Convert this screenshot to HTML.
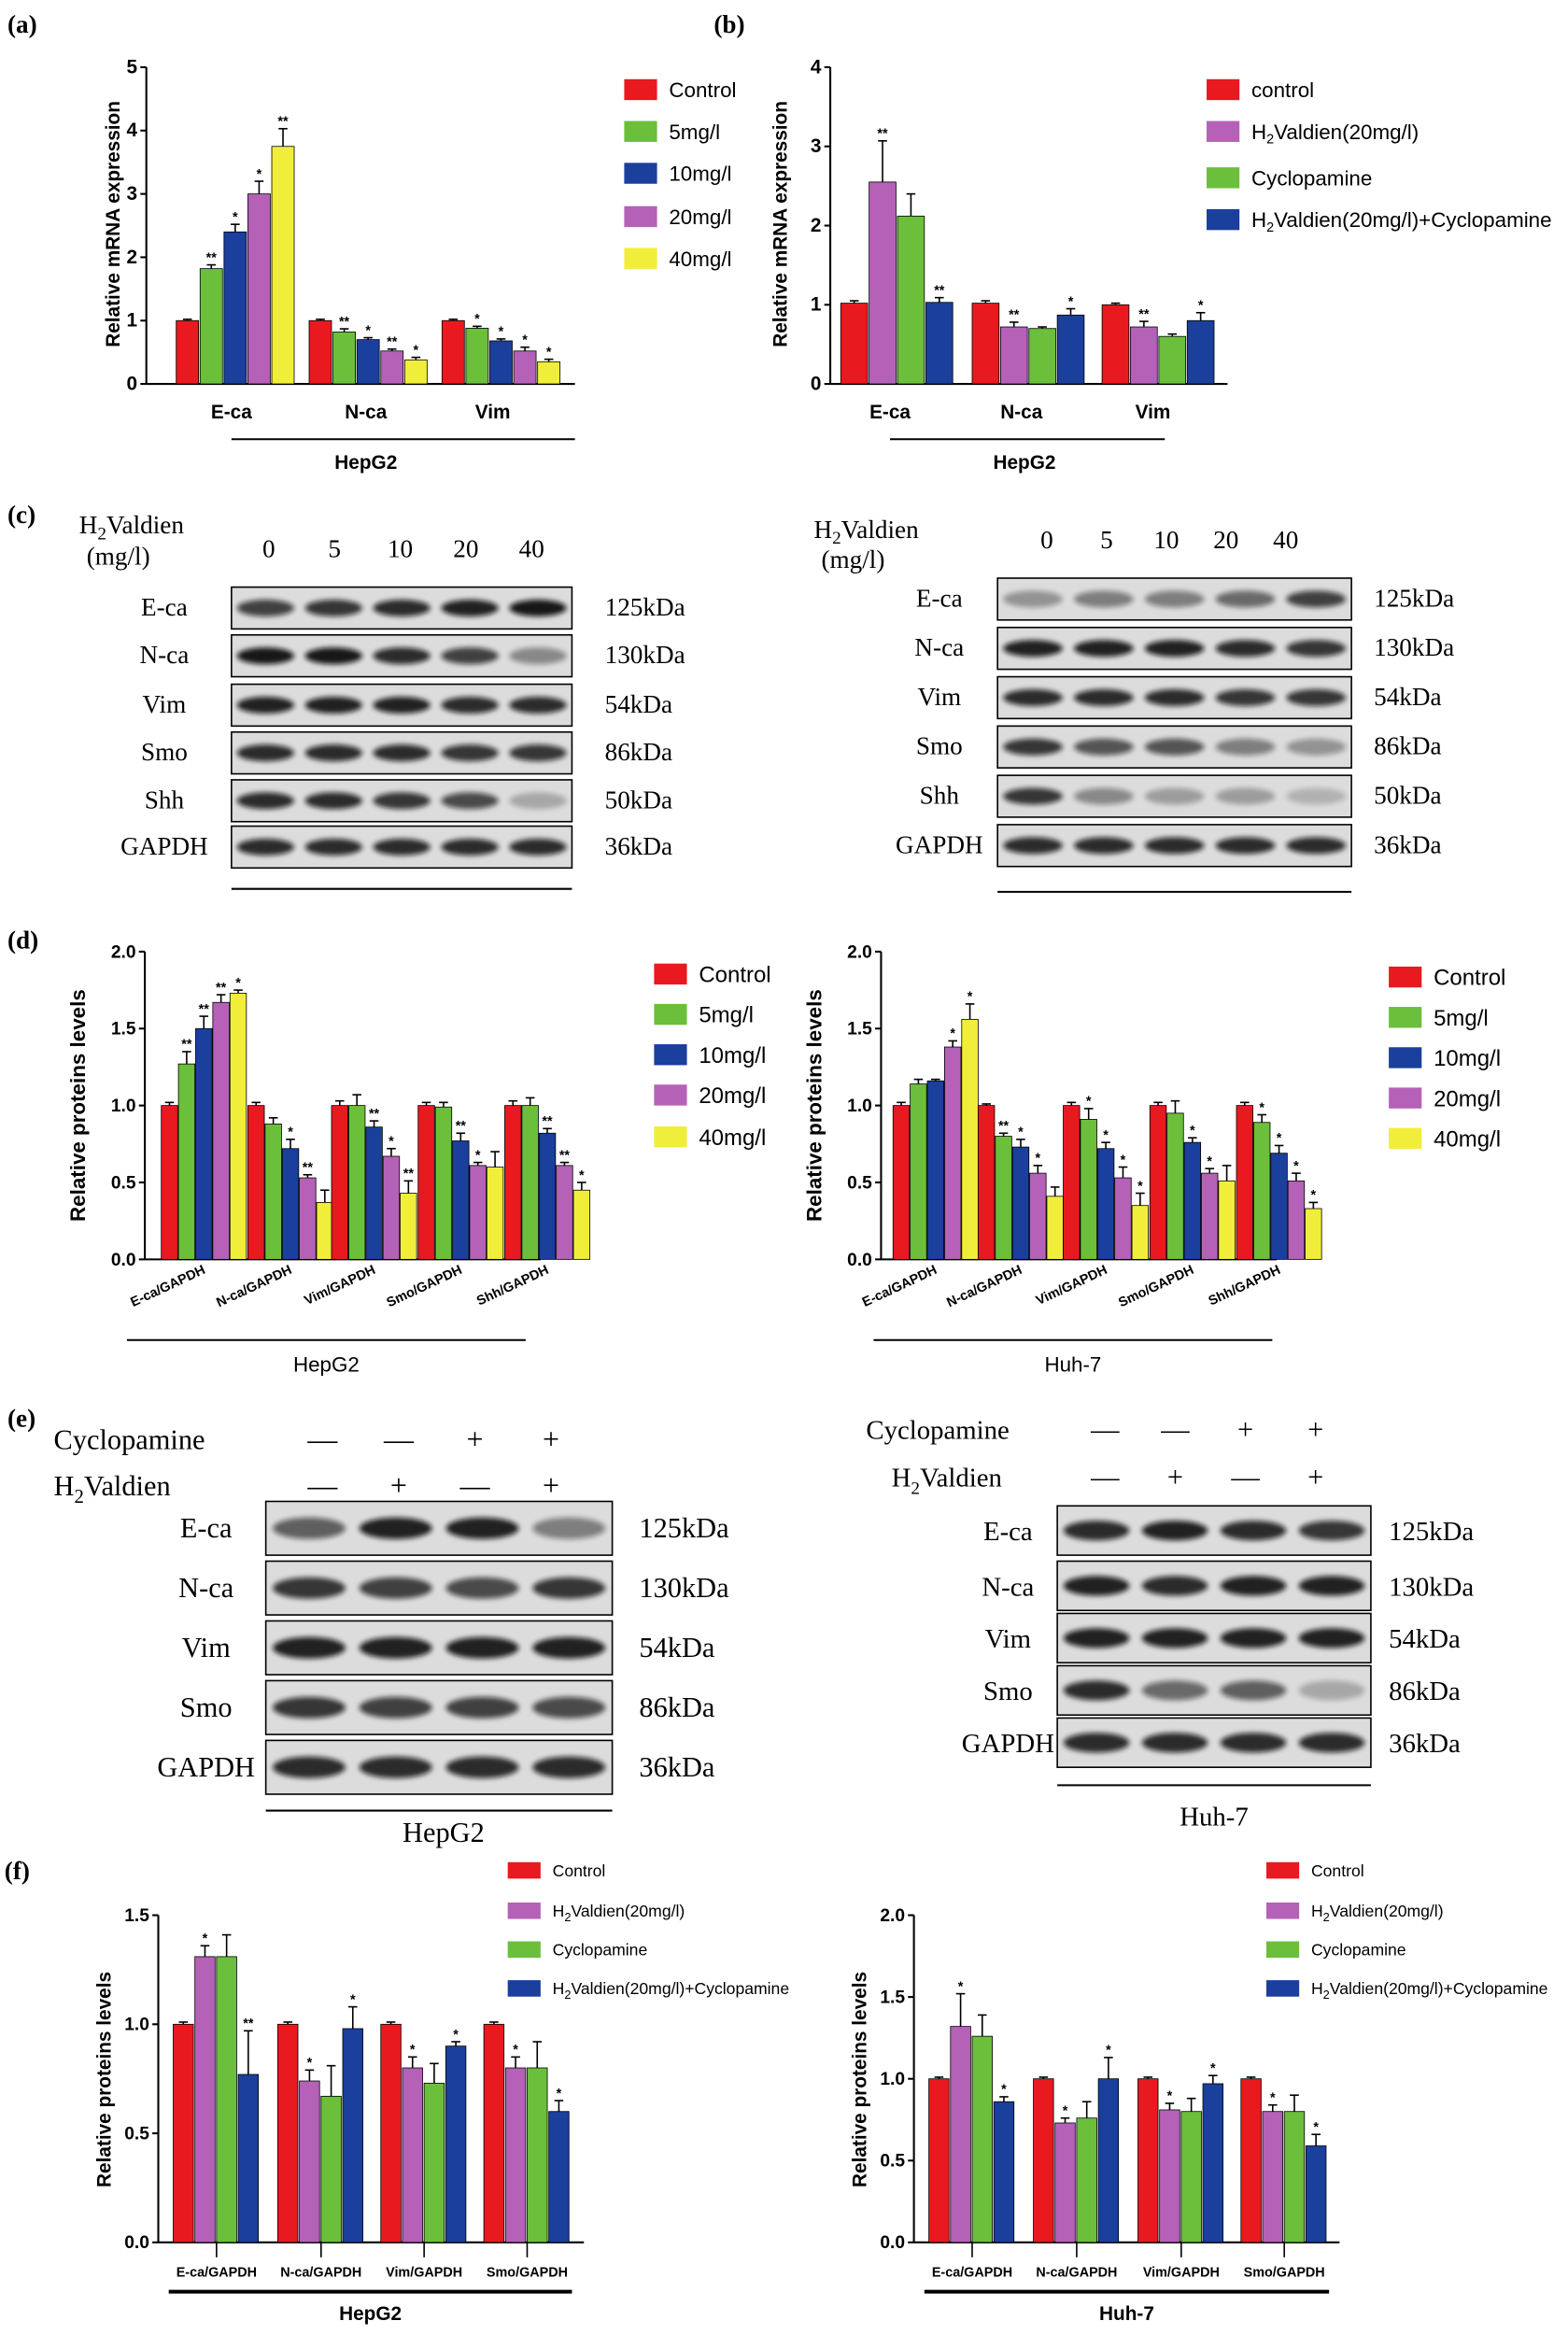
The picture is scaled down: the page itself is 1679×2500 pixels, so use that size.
<!DOCTYPE html>
<html><head><meta charset="utf-8">
<style>
html,body{margin:0;padding:0;background:#fff;}
svg{display:block;}
text{font-family:"Liberation Sans",Arial,sans-serif;}
.serif{font-family:"Liberation Serif","Times New Roman",serif;}
</style></head>
<body>
<svg id="s" width="1679" height="2500" viewBox="0 0 1050 1563" preserveAspectRatio="none" xmlns="http://www.w3.org/2000/svg">
<defs><filter id="bl" x="-20%" y="-50%" width="140%" height="200%"><feGaussianBlur stdDeviation="1.6"/></filter></defs>
<g id="g"></g>
</svg>
<script>
const g=document.getElementById('g');let h='';
const R='#e8191f',G='#6bbf3a',B='#1a3f9c',P='#b561b8',Y='#f0ee3a';
function t(x,y,s,sz,a,extra){h+=`<text x="${x}" y="${y}" font-size="${sz}" text-anchor="${a||'start'}" ${extra||''}>${s}</text>`;}
function L(x1,y1,x2,y2,w){h+=`<line x1="${x1}" y1="${y1}" x2="${x2}" y2="${y2}" stroke="#000" stroke-width="${w||1.3}"/>`;}
function axis(x,y0,ticks,ppu,lsz,xend,dec){
 L(x,y0,x,y0-ticks[ticks.length-1]*ppu);L(x,y0,xend,y0);
 ticks.forEach(v=>{const y=y0-v*ppu;L(x-4,y,x,y);t(x-6,y+4,dec?v.toFixed(1):v,lsz,'end','font-weight="bold"');});
}
function bars(x0,y0,ppu,vals,cols,w,gap,err,stars){
 vals.forEach((v,i)=>{const x=x0+i*(w+gap);const y=y0-v*ppu;
 h+=`<rect x="${x}" y="${y}" width="${w}" height="${v*ppu}" fill="${cols[i]}" stroke="#000" stroke-width="0.5"/>`;
 const e=(err&&err[i]!=null?err[i]:0.04)*ppu;
 L(x+w/2,y,x+w/2,y-e,1);L(x+w/2-3,y-e,x+w/2+3,y-e,1);
 if(stars&&stars[i])t(x+w/2,y-e-2,stars[i],9,'middle','font-weight="bold"');});
}
function legend(x,ys,cols,labels,sz,w,hh){ys.forEach((y,i)=>{h+=`<rect x="${x}" y="${y-hh/2}" width="${w}" height="${hh}" fill="${cols[i]}"/>`;t(x+w+8,y+sz*0.36,labels[i],sz);});}
// (a)
t(5,22,'(a)',17,'start','class="serif" font-weight="bold"');
axis(98,257,[0,1,2,3,4,5],42.4,13,385,false);
h+=`<text transform="translate(80,150) rotate(-90)" font-size="13" font-weight="bold" text-anchor="middle">Relative mRNA expression</text>`;
const c5=[R,G,B,P,Y];
bars(118,257,42.4,[1,1.82,2.4,3.0,3.75],c5,15,1,[0.02,0.06,0.12,0.2,0.28],['','**','*','*','**']);
bars(207,257,42.4,[1,0.82,0.7,0.52,0.38],c5,15,1,[0.02,0.05,0.03,0.03,0.04],['','**','*','**','*']);
bars(296,257,42.4,[1,0.88,0.68,0.52,0.35],c5,15,1,[0.02,0.03,0.03,0.06,0.04],['','*','*','*','*']);
t(155,280,'E-ca',13,'middle','font-weight="bold"');t(245,280,'N-ca',13,'middle','font-weight="bold"');t(330,280,'Vim',13,'middle','font-weight="bold"');
L(155,294,385,294);t(245,314,'HepG2',13,'middle','font-weight="bold"');
legend(418,[60,88,116,145,173],c5,['Control','5mg/l','10mg/l','20mg/l','40mg/l'],14,22,14);
// (b)
t(478,22,'(b)',17,'start','class="serif" font-weight="bold"');
axis(556,257,[0,1,2,3,4],53,13,822,false);
h+=`<text transform="translate(527,150) rotate(-90)" font-size="13" font-weight="bold" text-anchor="middle">Relative mRNA expression</text>`;
const c4b=[R,P,G,B];
bars(563,257,53,[1.02,2.55,2.12,1.03],c4b,18,1,[0.03,0.52,0.28,0.06],['','**','','**']);
bars(651,257,53,[1.02,0.72,0.7,0.87],c4b,18,1,[0.03,0.06,0.02,0.08],['','**','','*']);
bars(738,257,53,[1.0,0.72,0.6,0.8],c4b,18,1,[0.02,0.07,0.03,0.1],['','**','','*']);
t(596,280,'E-ca',13,'middle','font-weight="bold"');t(684,280,'N-ca',13,'middle','font-weight="bold"');t(772,280,'Vim',13,'middle','font-weight="bold"');
L(596,294,780,294);t(686,314,'HepG2',13,'middle','font-weight="bold"');
legend(808,[60,88,119,147],c4b,['control','H<tspan font-size="9" dy="3">2</tspan><tspan dy="-3">Valdien(20mg/l)</tspan>','Cyclopamine','H<tspan font-size="9" dy="3">2</tspan><tspan dy="-3">Valdien(20mg/l)+Cyclopamine</tspan>'],14,22,14);
// blots
function blot(x,y,w,hh,n,ints,bg){
 h+=`<rect x="${x}" y="${y}" width="${w}" height="${hh}" fill="${bg||'#dcdcdc'}" stroke="#000" stroke-width="1"/>`;
 const lw=w/n;ints.forEach((v,i)=>{const cx=x+lw*(i+0.5);h+=`<ellipse cx="${cx}" cy="${y+hh/2}" rx="${lw*0.42}" ry="${hh*0.2}" fill="#111" opacity="${v}" filter="url(#bl)"/>`;});
}
function ts(x,y,s,sz,a){t(x,y,s,sz,a,'class="serif"');}
t(5,350,'(c)',17,'start','class="serif" font-weight="bold"');
ts(53,357,'H<tspan font-size="12" dy="4">2</tspan><tspan dy="-4">Valdien</tspan>',17);ts(58,378,'(mg/l)',17);
['0','5','10','20','40'].forEach((s,i)=>ts(180+i*44,373,s,17,'middle'));
const lrows=[[393,'E-ca','125kDa',[.75,.8,.85,.9,.95]],[425,'N-ca','130kDa',[.95,.95,.85,.75,.4]],[458,'Vim','54kDa',[.9,.9,.9,.85,.85]],[490,'Smo','86kDa',[.85,.85,.85,.8,.8]],[522,'Shh','50kDa',[.85,.85,.8,.7,.25]],[553,'GAPDH','36kDa',[.85,.85,.85,.85,.85]]];
lrows.forEach(r=>{blot(155,r[0],228,28,5,r[3]);ts(110,r[0]+19,r[1],17,'middle');ts(405,r[0]+19,r[2],17);});
L(155,595,383,595);
ts(545,360,'H<tspan font-size="12" dy="4">2</tspan><tspan dy="-4">Valdien</tspan>',17);ts(550,380,'(mg/l)',17);
['0','5','10','20','40'].forEach((s,i)=>ts(701+i*40,367,s,17,'middle'));
const rrows=[[387,'E-ca','125kDa',[.35,.45,.45,.55,.75]],[420,'N-ca','130kDa',[.9,.9,.9,.85,.8]],[453,'Vim','54kDa',[.85,.85,.85,.8,.8]],[486,'Smo','86kDa',[.8,.65,.65,.45,.35]],[519,'Shh','50kDa',[.8,.4,.3,.3,.2]],[552,'GAPDH','36kDa',[.85,.85,.85,.85,.85]]];
rrows.forEach(r=>{blot(668,r[0],237,28,5,r[3]);ts(629,r[0]+19,r[1],17,'middle');ts(920,r[0]+19,r[2],17);});
L(668,597,905,597);
// (d)
t(5,635,'(d)',17,'start','class="serif" font-weight="bold"');
function dpanel(ax,groups,starts,stars,label,lx,ly,ux1,ux2){
 axis(ax,843,[0,0.5,1,1.5,2],103,12,ax+265,true);
 h+=`<text transform="translate(${ax-40},740) rotate(-90)" font-size="14" font-weight="bold" text-anchor="middle">Relative proteins levels</text>`;
 groups.forEach((v,i)=>bars(starts[i],843,103,v[0],c5,11,0.5,v[1],stars[i]));
 ['E-ca/GAPDH','N-ca/GAPDH','Vim/GAPDH','Smo/GAPDH','Shh/GAPDH'].forEach((s,i)=>h+=`<text transform="translate(${starts[i]+30},852) rotate(-25)" font-size="9" font-weight="bold" text-anchor="end">${s}</text>`);
 L(ux1,897,ux2,897);t((ux1+ux2)/2,918,label,14,'middle');
 legend(lx,ly,c5,['Control','5mg/l','10mg/l','20mg/l','40mg/l'],15,22,14);
}
dpanel(97,[[[1,1.27,1.5,1.67,1.73],[.02,.08,.08,.05,.02]],[[1,.88,.72,.53,.37],[.02,.04,.06,.02,.08]],[[1,1,.86,.67,.43],[.03,.07,.04,.05,.08]],[[1,.99,.77,.61,.6],[.02,.03,.05,.02,.1]],[[1,1,.82,.61,.45],[.03,.05,.03,.02,.05]]],[108,166,222,280,338],[['','**','**','**','*'],['','','*','**',''],['','','**','*','**'],['','','**','*',''],['','','**','**','*']],'HepG2',438,[652,679,706,733,761],85,352);
dpanel(590,[[[1,1.14,1.16,1.38,1.56],[.02,.03,.01,.04,.1]],[[1,.8,.73,.56,.41],[.01,.02,.05,.05,.06]],[[1,.91,.72,.53,.35],[.02,.07,.04,.07,.08]],[[1,.95,.76,.56,.51],[.02,.08,.03,.03,.1]],[[1,.89,.69,.51,.33],[.02,.05,.05,.05,.04]]],[598,655,712,770,828],[['','','','*','*'],['','**','*','*',''],['','*','*','*','*'],['','','*','*',''],['','*','*','*','*']],'Huh-7',930,[654,681,708,735,762],585,852);
// (e)
t(5,955,'(e)',17,'start','class="serif" font-weight="bold"');
ts(36,970,'Cyclopamine',19);ts(36,1001,'H<tspan font-size="13" dy="5">2</tspan><tspan dy="-5">Valdien</tspan>',19);
[['—','—','+','+'],['—','+','—','+']].forEach((r,j)=>r.forEach((s,i)=>ts(216+i*51,970+j*31,s,20,'middle')));
[[1005,'E-ca','125kDa',[.6,.9,.9,.45]],[1045,'N-ca','130kDa',[.8,.75,.7,.8]],[1085,'Vim','54kDa',[.9,.9,.9,.9]],[1125,'Smo','86kDa',[.8,.75,.75,.7]],[1165,'GAPDH','36kDa',[.85,.85,.85,.85]]].forEach(r=>{blot(178,r[0],232,36,4,r[3]);ts(138,r[0]+24,r[1],19,'middle');ts(428,r[0]+24,r[2],19);});
L(178,1212,410,1212);ts(297,1233,'HepG2',19,'middle');
ts(580,963,'Cyclopamine',18);ts(597,995,'H<tspan font-size="12" dy="5">2</tspan><tspan dy="-5">Valdien</tspan>',18);
[['—','—','+','+'],['—','+','—','+']].forEach((r,j)=>r.forEach((s,i)=>ts(740+i*47,963+j*32,s,19,'middle')));
[[1008,'E-ca','125kDa',[.85,.9,.85,.8]],[1045,'N-ca','130kDa',[.9,.85,.9,.9]],[1080,'Vim','54kDa',[.9,.9,.9,.9]],[1115,'Smo','86kDa',[.85,.55,.6,.25]],[1150,'GAPDH','36kDa',[.85,.85,.85,.85]]].forEach(r=>{blot(708,r[0],210,33,4,r[3]);ts(675,r[0]+23,r[1],18,'middle');ts(930,r[0]+23,r[2],18);});
L(708,1195,918,1195);ts(813,1222,'Huh-7',18,'middle');
// (f)
t(3,1258,'(f)',17,'start','class="serif" font-weight="bold"');
const FY=1501;
function fpanel(ax,ticks,ppu,groups,starts,stars,label,lx){
 axis(ax,FY,ticks,ppu,12,ax+285,true);
 h+=`<text transform="translate(${ax-32},1392) rotate(-90)" font-size="13" font-weight="bold" text-anchor="middle">Relative proteins levels</text>`;
 groups.forEach((v,i)=>{bars(starts[i],FY,ppu,v[0],c4b,13.5,1,v[1],stars[i]);L(starts[i]+29,FY,starts[i]+29,FY+10,1);});
 ['E-ca/GAPDH','N-ca/GAPDH','Vim/GAPDH','Smo/GAPDH'].forEach((s,i)=>t(starts[i]+29,1524,s,9,'middle','font-weight="bold"'));
 L(starts[0]-3,1534,starts[3]+59,1534,2.5);
 t((starts[0]+starts[3]+56)/2,1553,label,13,'middle','font-weight="bold"');
 legend(lx,[1252,1279,1305,1331],c4b,['Control','H<tspan font-size="8" dy="3">2</tspan><tspan dy="-3">Valdien(20mg/l)</tspan>','Cyclopamine','H<tspan font-size="8" dy="3">2</tspan><tspan dy="-3">Valdien(20mg/l)+Cyclopamine</tspan>'],11,22,11);
}
fpanel(106,[0,0.5,1.0,1.5],146,[[[1,1.31,1.31,.77],[.01,.05,.1,.2]],[[1,.74,.67,.98],[.01,.05,.14,.1]],[[1,.8,.73,.9],[.01,.05,.09,.02]],[[1,.8,.8,.6],[.01,.05,.12,.05]]],[116,186,255,324],[['','*','','**'],['','*','','*'],['','*','','*'],['','*','','*']],'HepG2',340);
fpanel(612,[0,0.5,1.0,1.5,2.0],109.5,[[[1,1.32,1.26,.86],[.01,.2,.13,.03]],[[1,.73,.76,1.0],[.01,.03,.1,.13]],[[1,.81,.8,.97],[.01,.04,.08,.05]],[[1,.8,.8,.59],[.01,.04,.1,.07]]],[622,692,762,831],[['','*','','*'],['','*','','*'],['','*','','*'],['','*','','*']],'Huh-7',848);
g.innerHTML=h;
</script>
</body></html>
